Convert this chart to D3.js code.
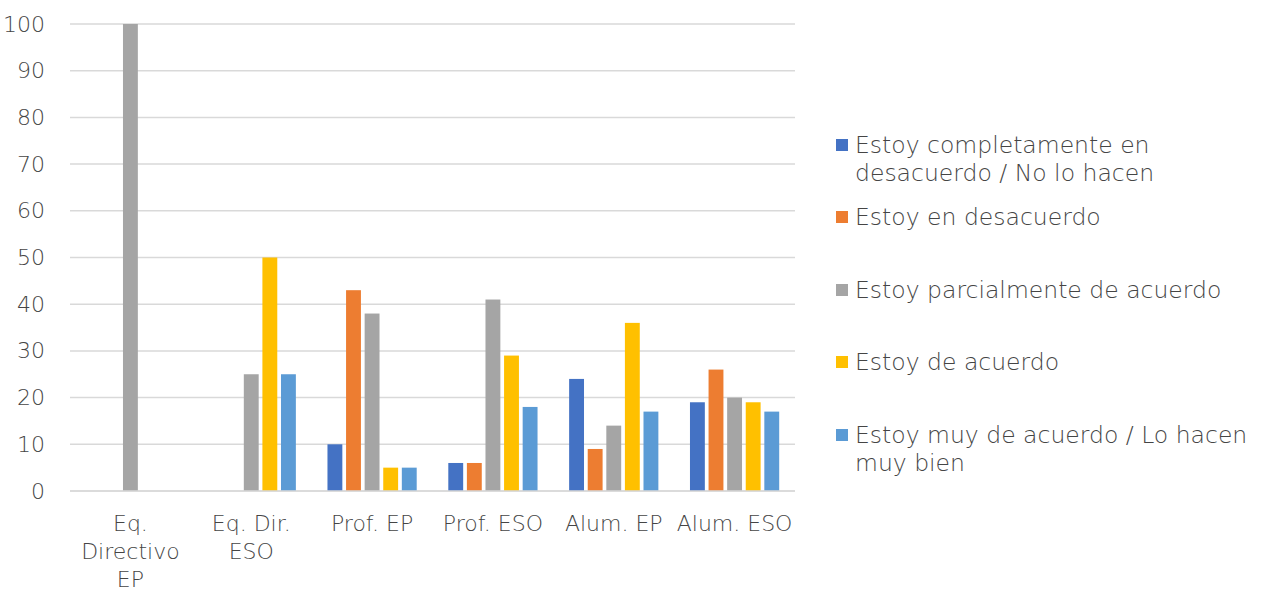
<!DOCTYPE html>
<html>
<head>
<meta charset="utf-8">
<script src="https://cdn.jsdelivr.net/npm/d3@7"></script>
<style>
  body { margin: 0; background: #fff; }
  text { font-family: "DejaVu Sans", sans-serif; fill: #454545; }
</style>
</head>
<body>
<div id="chart"></div>
<script>
// categories (wrapped into lines as in the picture)
var categories = ["Eq. Directivo EP", "Eq. Dir. ESO", "Prof. EP", "Prof. ESO", "Alum. EP", "Alum. ESO"];
var categoryLines = [["Eq.", "Directivo", "EP"], ["Eq. Dir.", "ESO"], ["Prof. EP"], ["Prof. ESO"], ["Alum. EP"], ["Alum. ESO"]];

var seriesNames = [
  "Estoy completamente en desacuerdo / No lo hacen",
  "Estoy en desacuerdo",
  "Estoy parcialmente de acuerdo",
  "Estoy de acuerdo",
  "Estoy muy de acuerdo / Lo hacen muy bien"
];
var legendLines = [
  ["Estoy completamente en", "desacuerdo / No lo hacen"],
  ["Estoy en desacuerdo"],
  ["Estoy parcialmente de acuerdo"],
  ["Estoy de acuerdo"],
  ["Estoy muy de acuerdo / Lo hacen", "muy bien"]
];
var colors = ["#4472C4", "#ED7D31", "#A5A5A5", "#FFC000", "#5B9BD5"];

// values per series, one per category
var completamenteDesacuerdo = [0, 0, 10, 6, 24, 19];
var desacuerdo = [0, 0, 43, 6, 9, 26];
var parcialmente = [100, 25, 38, 41, 14, 20];
var deAcuerdo = [0, 50, 5, 29, 36, 19];
var muyDeAcuerdo = [0, 25, 5, 18, 17, 17];
var seriesValues = [completamenteDesacuerdo, desacuerdo, parcialmente, deAcuerdo, muyDeAcuerdo];

var yTicks = [0, 10, 20, 30, 40, 50, 60, 70, 80, 90, 100];

var margin = {top: 24, right: 467, bottom: 101, left: 70},
  width = 1262 - margin.left - margin.right,
  height = 592 - margin.top - margin.bottom;

var svg = d3.select("#chart")
  .append("svg")
  .attr("width", 1262)
  .attr("height", 592);

var g = svg.append("g")
  .attr("transform", "translate(" + margin.left + "," + margin.top + ")");

var x0 = d3.scaleBand()
  .domain(categories)
  .range([0, width])
  .padding(0);

var x1 = d3.scaleBand()
  .domain(d3.range(seriesNames.length))
  .range([0, x0.bandwidth()])
  .paddingInner(0.2)
  .paddingOuter(0.85);

var y = d3.scaleLinear()
  .domain([0, 100])
  .range([height, 0]);

// gridlines
g.append("g")
  .selectAll("line")
  .data(yTicks)
  .enter()
  .append("line")
    .attr("x1", 0)
    .attr("x2", width)
    .attr("y1", function(d) { return y(d) })
    .attr("y2", function(d) { return y(d) })
    .style("stroke", "#d9d9d9")
    .style("stroke-width", 1.5);

// y axis labels
var yAxis = g.append("g")
  .call(d3.axisLeft(y).tickValues(yTicks).tickSize(0).tickPadding(25))
yAxis.select(".domain").remove()
yAxis.selectAll("text")
  .style("font-size", "22px")
  .style("font-family", "DejaVu Sans, sans-serif")
  .style("font-weight", 300)
  .style("fill", "#454545");

// bars
var rows = categories.map(function(c, i) {
  return {category: c, values: seriesValues.map(function(s, j) { return {series: j, value: s[i]} })};
});

var groups = g.selectAll(".group")
  .data(rows)
  .enter()
  .append("g")
    .attr("transform", function(d) { return "translate(" + x0(d.category) + ",0)" });

groups.selectAll("rect")
  .data(function(d) { return d.values.filter(function(v) { return v.value > 0 }) })
  .enter()
  .append("rect")
    .attr("x", function(d) { return x1(d.series) })
    .attr("y", function(d) { return y(d.value) })
    .attr("width", x1.bandwidth())
    .attr("height", function(d) { return height - y(d.value) })
    .style("fill", function(d) { return colors[d.series] });

// x axis line
g.append("line")
  .attr("x1", 0)
  .attr("x2", width)
  .attr("y1", height)
  .attr("y2", height)
  .style("stroke", "#d9d9d9")
  .style("stroke-width", 1.5);

// x labels
var xLab = g.append("g")
  .selectAll("text")
  .data(categories)
  .enter()
  .append("text")
    .attr("text-anchor", "middle")
    .attr("x", function(d) { return x0(d) + x0.bandwidth() / 2 })
    .attr("y", height + 40)
    .style("font-size", "22px")
    .style("font-weight", 300);

xLab.selectAll("tspan")
  .data(function(d, i) { return categoryLines[i] })
  .enter()
  .append("tspan")
    .attr("x", function() { return d3.select(this.parentNode).attr("x") })
    .attr("dy", function(d, i) { return i === 0 ? 0 : 28 })
    .text(function(d) { return d });

// legend
var legendY = [145, 217, 290, 362, 435];
var legend = svg.append("g")
  .selectAll("g")
  .data(seriesNames)
  .enter()
  .append("g")
    .attr("transform", function(d, i) { return "translate(836," + legendY[i] + ")" });

legend.append("rect")
  .attr("x", 0)
  .attr("y", -6)
  .attr("width", 12)
  .attr("height", 12)
  .style("fill", function(d, i) { return colors[i] });

legend.append("text")
  .attr("x", 19)
  .attr("y", 8)
  .style("font-size", "23.5px")
  .style("font-weight", 300)
  .selectAll("tspan")
  .data(function(d, i) { return legendLines[i] })
  .enter()
  .append("tspan")
    .attr("x", 19)
    .attr("dy", function(d, i) { return i === 0 ? 0 : 28 })
    .text(function(d) { return d });
</script>
</body>
</html>
